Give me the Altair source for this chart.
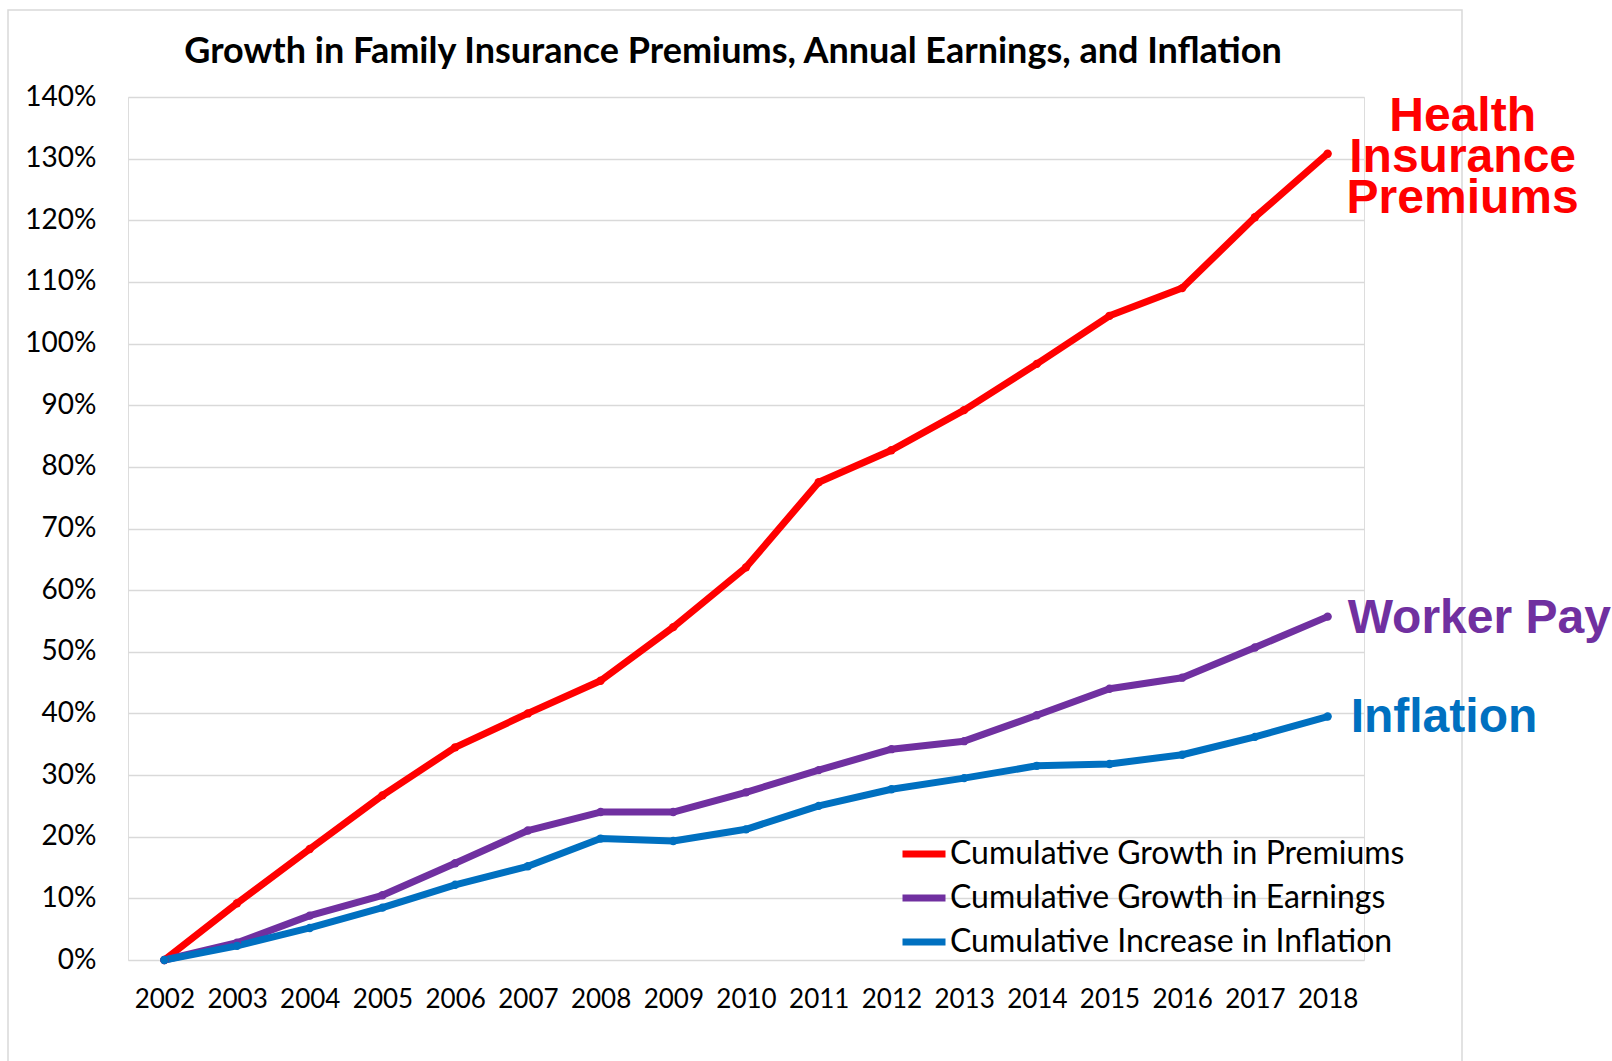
import altair as alt
import pandas as pd

years = [str(y) for y in range(2002, 2019)]
premiums = [0, 9.2, 18.0, 26.7, 34.5, 40.0, 45.3, 54.0, 63.7, 77.5, 82.7, 89.2, 96.7, 104.5, 109.0, 120.5, 130.8]
earnings = [0, 2.8, 7.2, 10.5, 15.7, 21.0, 24.0, 24.0, 27.2, 30.8, 34.2, 35.5, 39.7, 44.0, 45.8, 50.7, 55.7]
inflation = [0, 2.3, 5.2, 8.5, 12.2, 15.2, 19.7, 19.3, 21.2, 25.0, 27.7, 29.5, 31.5, 31.8, 33.3, 36.2, 39.5]
series_names = ["Cumulative Growth in Premiums", "Cumulative Growth in Earnings", "Cumulative Increase in Inflation"]
colors = ["#FF0000", "#7030A0", "#0070C0"]
label_texts = ["Health\nInsurance\nPremiums", "Worker Pay", "Inflation"]
y_ticks = list(range(0, 141, 10))

rows = []
for name, vals in zip(series_names, [premiums, earnings, inflation]):
    for yr, v in zip(years, vals):
        rows.append({"year": yr, "value": v, "series": name})
df = pd.DataFrame(rows)

ann = pd.DataFrame({
    "year": [years[-1]] * 3,
    "value": [premiums[-1], earnings[-1], inflation[-1]],
    "label": label_texts,
})

W, H = 1236, 863

x_enc = alt.X("year:O", title=None, scale=alt.Scale(type="point", padding=0.5),
              axis=alt.Axis(labelAngle=0, labelFont="Lato", labelFontSize=26, labelColor="black",
                            labelPadding=26, ticks=False, domain=False, grid=False))
y_enc = alt.Y("value:Q", title=None, scale=alt.Scale(domain=[0, 140], nice=False),
              axis=alt.Axis(values=y_ticks, labelExpr="datum.value + '%'", labelFont="Lato",
                            labelFontSize=28, labelColor="black", labelPadding=32, ticks=False,
                            domain=False, gridColor="#d9d9d9", gridWidth=1.5))

border = alt.Chart(pd.DataFrame({"a": [0]})).mark_rect(
    fill="transparent", stroke="#d9d9d9", strokeWidth=1.5
).encode(x=alt.value(-120), x2=alt.value(1334), y=alt.value(-87), y2=alt.value(990))

lines = alt.Chart(df).mark_line(
    strokeWidth=7, strokeCap="round", strokeJoin="round",
    point=alt.OverlayMarkDef(filled=True, size=70)
).encode(
    x=x_enc, y=y_enc,
    color=alt.Color("series:N", scale=alt.Scale(domain=series_names, range=colors),
                    legend=alt.Legend(orient="none", legendX=771, legendY=732, title=None,
                                      symbolType="stroke", symbolSize=1849, symbolStrokeWidth=7,
                                      labelFont="Lato", labelFontSize=32, labelColor="black",
                                      labelOffset=1, rowPadding=3, padding=0, labelLimit=600)),
    order=alt.Order("year:O"),
)

health = alt.Chart(ann.iloc[[0]]).mark_text(
    font="Liberation Sans", fontWeight="bold", fontSize=48, color=colors[0],
    align="center", baseline="middle", lineBreak="\n", lineHeight=41, dx=135, dy=-37
).encode(x=alt.X("year:O"), y=alt.Y("value:Q"), text="label:N")

worker = alt.Chart(ann.iloc[[1]]).mark_text(
    font="Liberation Sans", fontWeight="bold", fontSize=48, color=colors[1],
    align="left", baseline="middle", dx=20, dy=2
).encode(x=alt.X("year:O"), y=alt.Y("value:Q"), text="label:N")

infl = alt.Chart(ann.iloc[[2]]).mark_text(
    font="Liberation Sans", fontWeight="bold", fontSize=48, color=colors[2],
    align="left", baseline="middle", dx=23, dy=1
).encode(x=alt.X("year:O"), y=alt.Y("value:Q"), text="label:N")

chart = alt.layer(border, lines, health, worker, infl).properties(
    width=W, height=H,
    title=alt.TitleParams("Growth in Family Insurance Premiums, Annual Earnings, and Inflation",
                          font="Lato", fontSize=36, fontWeight="bold", color="black",
                          anchor="middle", frame="group", dx=-13, offset=-62),
    autosize=alt.AutoSizeParams(type="none"),
    padding={"left": 128, "top": 97, "right": 248, "bottom": 101},
).configure_view(strokeWidth=0).configure(background="white")

chart.save("out.html", embed_options={"renderer": "svg", "actions": False})
